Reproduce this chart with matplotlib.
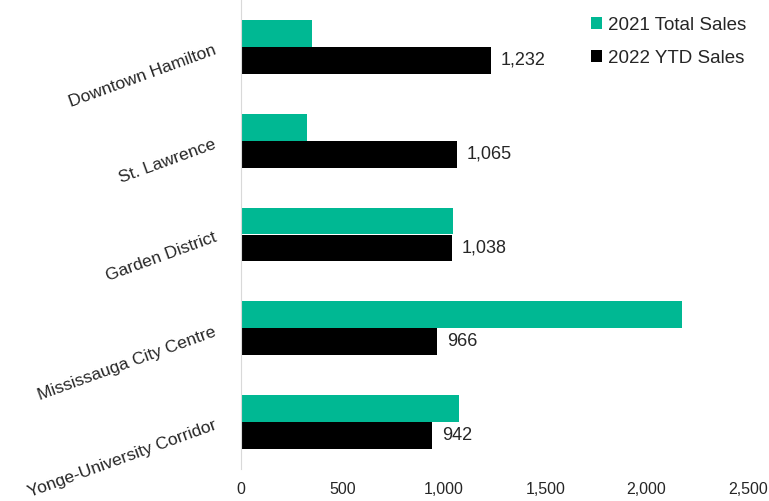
import numpy as np
import matplotlib.pyplot as plt
import matplotlib.transforms as mtransforms

plt.rcParams['font.family'] = ['Liberation Sans', 'DejaVu Sans']

areas = ['Downtown Hamilton', 'St. Lawrence', 'Garden District',
         'Mississauga City Centre', 'Yonge-University Corridor']
sales_2021 = [351, 324, 1045, 2173, 1076]
sales_2022 = [1232, 1065, 1038, 966, 942]
xticks = [0, 500, 1000, 1500, 2000, 2500]

teal = '#00b893'

fig = plt.figure(figsize=(7.69, 5.01), dpi=100)
ax = fig.add_axes([241 / 769, 1 - 469 / 501, (748 - 241) / 769, 469 / 501])

y = np.arange(len(areas))
h = 0.286
ax.barh(y - h / 2, sales_2021, height=h, color=teal, label='2021 Total Sales')
ax.barh(y + h / 2, sales_2022, height=h, color='black', label='2022 YTD Sales')

for yi, v in zip(y, sales_2022):
    ax.text(v + 50, yi + h / 2, f'{v:,}', va='center', ha='left',
            fontsize=13, color='#262626')

ax.set_ylim(len(areas) - 0.5, -0.5)
ax.set_xlim(0, 2500)
ax.set_xticks(xticks)
ax.set_xticklabels([f'{t:,}' for t in xticks], fontsize=11.5, color='#262626')
ax.set_yticks(y)
ax.set_yticklabels(areas, fontsize=12.6, color='#262626', rotation=20,
                   rotation_mode='anchor', ha='right', va='top')
ax.tick_params(axis='both', length=0)
ax.tick_params(axis='x', pad=9)
ax.tick_params(axis='y', pad=20)

# nudge the slanted category labels up a little
shift = mtransforms.ScaledTranslation(0, 3 / 72, fig.dpi_scale_trans)
for lbl in ax.get_yticklabels():
    lbl.set_transform(lbl.get_transform() + shift)

for s in ['top', 'right', 'bottom']:
    ax.spines[s].set_visible(False)
ax.spines['left'].set_color('#d9d9d9')

ax.legend(loc='upper right', bbox_to_anchor=(1.03, 1.0), frameon=False,
          fontsize=13.5, handlelength=0.6, handleheight=0.6, handletextpad=0.3,
          labelspacing=0.85, labelcolor='#262626')

plt.savefig('out.png', dpi=100)
